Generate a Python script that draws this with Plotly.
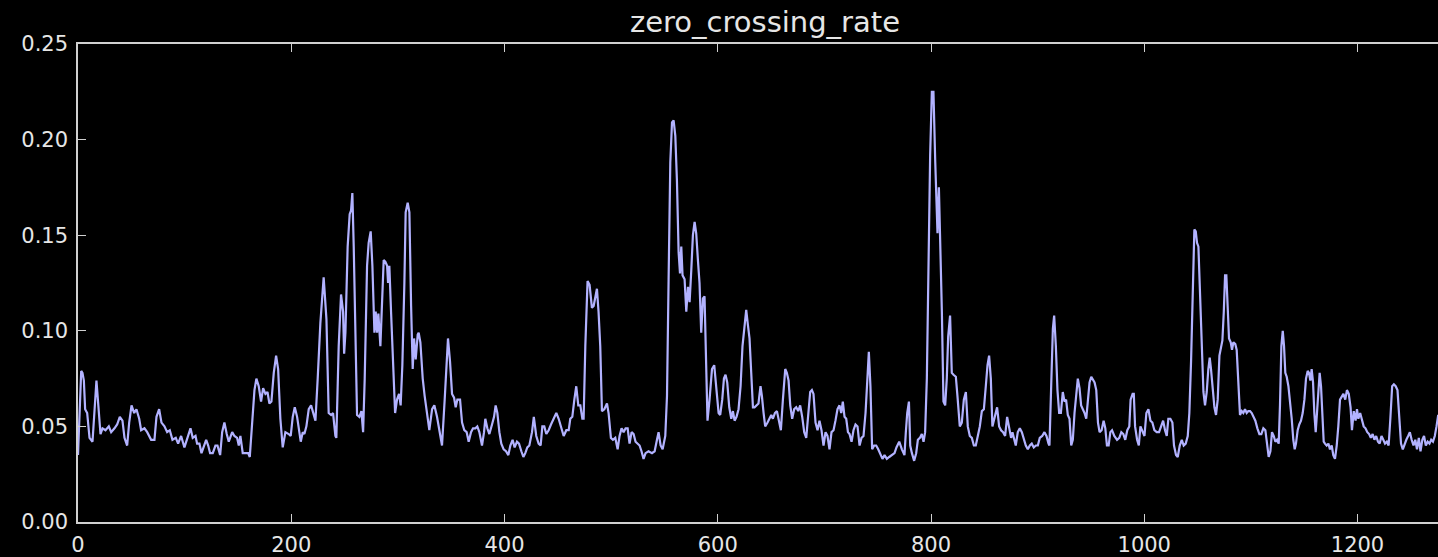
import plotly.graph_objects as go

# zero crossing rate per analysis frame (frame index, rate)
frame = [
    0, 3, 4.2, 5.5, 6.7, 8.6, 10.8, 13.6, 17.3, 21.1, 23, 25.8, 28.9, 31.1, 34.2, 36.7, 39.2, 41.7, 43.6, 46.1,
    48, 50.2, 52.7, 54.8, 57.4, 59.2, 62.3, 64.9, 68.6, 71.7, 73.6, 76.1, 78.3, 81.1, 83.6, 86.1, 88.6, 91.7, 93.9, 96.7,
    99.8, 102.4, 105.5, 107.6, 110.2, 111.7, 113.9, 115.8, 117.9, 120.2, 122.1, 123.9, 126.4, 128.9, 130.8, 133.3, 135.2, 137.3, 139.5, 141.4,
    144.6, 146.7, 149.2, 150.8, 152.3, 154.5, 157, 159.6, 161.1, 163.3, 165.5, 167.3, 169.5, 171.7, 173.6, 175.8, 177.7, 179.5, 181.4, 183.6,
    185.8, 187.7, 189.8, 192, 194.5, 197.6, 199.5, 201.4, 203.3, 205.5, 207, 208.9, 210.8, 212.3, 214.2, 216.4, 218.6, 220.5, 222.7, 224.8,
    227.3, 230.4, 233, 235.1, 237.4, 239.2, 241.4, 242.3, 244.5, 246.7, 248.6, 249.6, 250.8, 252.9, 254.8, 256.1, 257.3, 258.6, 260.2, 261.7,
    263.9, 265.8, 267.4, 268.9, 271.1, 272.6, 274.5, 276.1, 278, 279.2, 280.5, 281.7, 283.6, 285.2, 286.7, 288.3, 289.9, 290.8, 292, 293.6,
    295.5, 297.4, 299.2, 301.1, 302.6, 304.2, 306.1, 307.3, 309.2, 310.8, 312.4, 313.9, 315.2, 316.7, 318.6, 319.5, 321.1, 323.3, 325.1, 327.4,
    329.5, 332.1, 334.2, 336.7, 338.9, 341.4, 343.9, 347, 348.9, 350.8, 352.7, 354.2, 355.8, 358.3, 360.2, 362.3, 364.5, 366.4, 368.6, 370.5,
    372.7, 374.5, 376.4, 378.9, 380.8, 382, 383.9, 385.8, 388.3, 390.2, 391.7, 393.3, 395.2, 397, 399.2, 401.4, 403.6, 405.5, 407.6, 409.5,
    411.7, 413.6, 415.8, 417.7, 419.5, 421.4, 423.3, 425.8, 427.5, 429.8, 432, 433.9, 435.5, 437.3, 439.2, 441.4, 443.6, 446.1, 448.6, 450.8,
    453, 455.5, 458, 460.2, 461.7, 463.6, 465.5, 467.3, 469.2, 471.1, 473, 474.2, 475.8, 477.9, 479.8, 482, 483.6, 485.2, 486.7, 488.2,
    489.8, 491.4, 493.6, 496.1, 497.6, 499.8, 501.7, 503.9, 506.1, 507.9, 509.8, 511.7, 513.6, 515.5, 517.3, 519.2, 521.1, 522.9, 524.8, 526.7,
    528.5, 530.4, 532.3, 535.1, 538.3, 540.8, 543, 544.5, 546.4, 548.3, 550.8, 552.4, 553.9, 555.5, 557.1, 558.6, 560.2, 561.7, 563.3, 564.6,
    565.8, 567, 568.9, 570.5, 572.1, 573.6, 575.2, 576.7, 578.3, 579.8, 581.4, 582.9, 584.5, 586.1, 587.6, 588.9, 590.4, 592.3, 594.6, 596.7,
    598.9, 600.8, 602.3, 604.2, 605.8, 607.3, 608.9, 610.8, 612.7, 614.2, 615.8, 617.6, 619.5, 621.4, 623.2, 625.1, 626.7, 628.3, 629.8, 631.4,
    633, 634.5, 636.4, 638.2, 640.1, 641.4, 643, 644.5, 646.7, 648.6, 650.2, 651.7, 653.6, 655.5, 657.4, 659.2, 661.1, 663.3, 664.8, 666.4,
    668, 669.8, 671.7, 673.6, 675.5, 677.3, 679.2, 681.1, 683, 684.8, 686.7, 688.3, 689.8, 691.7, 693.6, 695.4, 697.3, 699.2, 701.1, 702.9,
    704.8, 706.7, 708.6, 710.4, 712.3, 714.2, 715.8, 717.3, 718.9, 720.5, 722.1, 723.6, 725.5, 727.3, 729.2, 731.1, 733, 734.8, 736.7, 738.6,
    740.2, 741.7, 743.2, 744.8, 746.7, 748.6, 750.5, 752.3, 754.5, 756.4, 758.6, 760.8, 763.3, 765.8, 767.6, 770.2, 772.7, 775.1, 776.4, 777.7,
    779.3, 780.5, 782.1, 784.2, 786.1, 787.7, 789.6, 791.4, 793, 794.5, 796.1, 797.7, 799.2, 800.8, 802.3, 804, 804.9, 806.1, 807.4, 808.6,
    810.2, 811.7, 813.3, 814.8, 816.1, 817.9, 819.5, 821.1, 823.3, 824.8, 827, 828.9, 830.8, 832.7, 834.5, 836.4, 838.3, 840.2, 842, 843.9,
    845.8, 847.7, 849.6, 851.4, 853, 854.5, 856.1, 857.6, 860.1, 862, 863.9, 865.7, 867.6, 869.5, 871.4, 873.2, 875.1, 876.4, 878.3, 879.5,
    881.4, 883.3, 885.2, 887, 888.9, 890.8, 892.7, 894.5, 896.4, 898.3, 900.2, 902, 904.3, 906.4, 908.3, 910.2, 911.1, 912.7, 914.3, 915.5,
    917.1, 918.6, 920.2, 921.8, 923.6, 925.2, 926.7, 928.3, 929.9, 931.5, 933, 934.6, 936.2, 937.7, 939.3, 940.8, 942.4, 944, 945.6, 947.1,
    948.7, 950.3, 951.9, 953.4, 955, 956.6, 958.1, 960, 961.9, 963.5, 965, 966.6, 968.2, 969.8, 971.9, 974.5, 976.6, 978.5, 980.4, 982.2,
    984.1, 986, 987.2, 989.1, 990.2, 991.4, 993.3, 994.9, 996.4, 998.3, 1000.2, 1002, 1003.9, 1005.8, 1007.6, 1009.5, 1011.7, 1013.9, 1015.8, 1017.7,
    1019.5, 1021.1, 1022.6, 1024.5, 1026.4, 1027.9, 1029.8, 1031.4, 1033.3, 1035.2, 1037, 1038.9, 1040.8, 1042.3, 1043.9, 1045.5, 1047, 1048.3, 1049.5, 1050.8,
    1052.3, 1053.9, 1055.5, 1057, 1058.6, 1060.1, 1061.4, 1062.6, 1064.2, 1065.8, 1067.3, 1068.9, 1070.5, 1072.1, 1073.3, 1074.6, 1075.8, 1077, 1078.3, 1079.5,
    1081.1, 1082.3, 1083.6, 1085.4, 1086.7, 1088.3, 1089.8, 1091.4, 1092.9, 1094.5, 1096.1, 1097.6, 1099.2, 1100.8, 1102.3, 1104.2, 1106.1, 1108, 1109.8, 1111.7,
    1113.6, 1115.2, 1116.7, 1118.3, 1119.8, 1121.4, 1123, 1124.5, 1126.1, 1127.3, 1128.6, 1129.9, 1131.1, 1132.3, 1133.6, 1135.2, 1136.7, 1138.3, 1139.8, 1141.1,
    1142.3, 1143.9, 1145.4, 1147, 1148.6, 1150.2, 1151.7, 1153.3, 1154.5, 1155.8, 1157, 1158.3, 1159.5, 1160.8, 1162, 1163.3, 1164.5, 1165.8, 1167, 1168.3,
    1169.5, 1171.1, 1172.7, 1174.2, 1175.8, 1177.3, 1178.9, 1180.5, 1182, 1183.6, 1186.8, 1188.5, 1190.1, 1191.8, 1193.5, 1194.8, 1196.5, 1198.2, 1199.5, 1200.8,
    1202.5, 1204.2, 1205.8, 1207.5, 1209.2, 1210.9, 1212.5, 1214.2, 1215.9, 1217.5, 1219.2, 1220.8, 1222.5, 1224.2, 1225.8, 1227.5, 1229.2, 1230.8, 1232.5, 1234.1,
    1235.8, 1237.5, 1239.2, 1240.8, 1242.5, 1244.1, 1245.8, 1247.5, 1249.1, 1250.8, 1252.5, 1254.2, 1255.8, 1257.5, 1259.1, 1260.8, 1262.4, 1264.1, 1265.8, 1267.5,
    1269.1, 1270.8, 1272.5, 1274.1, 1275.7, 1277,
]

zcr = [
    0.035, 0.079, 0.078, 0.074, 0.059, 0.057, 0.044, 0.042, 0.074, 0.046, 0.049, 0.048, 0.050, 0.047, 0.049, 0.051, 0.055, 0.053, 0.044, 0.040,
    0.052, 0.061, 0.057, 0.059, 0.054, 0.048, 0.049, 0.047, 0.043, 0.043, 0.055, 0.059, 0.052, 0.050, 0.047, 0.048, 0.043, 0.044, 0.041, 0.045,
    0.039, 0.044, 0.049, 0.044, 0.045, 0.041, 0.041, 0.036, 0.040, 0.043, 0.040, 0.036, 0.036, 0.040, 0.040, 0.035, 0.047, 0.052, 0.046, 0.042,
    0.047, 0.045, 0.044, 0.040, 0.045, 0.036, 0.036, 0.036, 0.034, 0.050, 0.069, 0.075, 0.071, 0.063, 0.070, 0.067, 0.068, 0.062, 0.063, 0.078,
    0.087, 0.080, 0.054, 0.039, 0.047, 0.046, 0.045, 0.055, 0.060, 0.055, 0.048, 0.042, 0.047, 0.046, 0.050, 0.059, 0.061, 0.057, 0.053, 0.075,
    0.104, 0.128, 0.106, 0.057, 0.056, 0.057, 0.045, 0.044, 0.092, 0.119, 0.110, 0.088, 0.099, 0.144, 0.161, 0.163, 0.172, 0.144, 0.092, 0.056,
    0.055, 0.058, 0.047, 0.075, 0.134, 0.146, 0.152, 0.134, 0.099, 0.110, 0.099, 0.109, 0.092, 0.118, 0.137, 0.136, 0.134, 0.125, 0.134, 0.110,
    0.080, 0.057, 0.064, 0.067, 0.061, 0.082, 0.125, 0.162, 0.167, 0.162, 0.113, 0.080, 0.096, 0.085, 0.098, 0.099, 0.094, 0.075, 0.066, 0.057,
    0.048, 0.059, 0.061, 0.055, 0.047, 0.040, 0.064, 0.096, 0.084, 0.067, 0.065, 0.060, 0.064, 0.064, 0.052, 0.048, 0.047, 0.042, 0.047, 0.049,
    0.049, 0.050, 0.047, 0.040, 0.047, 0.054, 0.049, 0.046, 0.051, 0.055, 0.061, 0.057, 0.047, 0.041, 0.038, 0.037, 0.035, 0.040, 0.043, 0.039,
    0.042, 0.041, 0.037, 0.034, 0.036, 0.039, 0.040, 0.047, 0.055, 0.045, 0.041, 0.040, 0.050, 0.050, 0.046, 0.048, 0.051, 0.054, 0.057, 0.054,
    0.050, 0.045, 0.048, 0.048, 0.054, 0.055, 0.064, 0.071, 0.061, 0.061, 0.054, 0.054, 0.092, 0.126, 0.124, 0.112, 0.113, 0.119, 0.122, 0.110,
    0.092, 0.058, 0.059, 0.062, 0.057, 0.044, 0.043, 0.044, 0.038, 0.045, 0.049, 0.047, 0.049, 0.049, 0.041, 0.047, 0.046, 0.042, 0.041, 0.040,
    0.037, 0.033, 0.036, 0.037, 0.036, 0.037, 0.043, 0.047, 0.040, 0.038, 0.045, 0.066, 0.127, 0.188, 0.209, 0.210, 0.202, 0.179, 0.141, 0.130,
    0.144, 0.129, 0.127, 0.110, 0.123, 0.115, 0.132, 0.150, 0.157, 0.151, 0.137, 0.125, 0.099, 0.117, 0.118, 0.092, 0.053, 0.064, 0.080, 0.082,
    0.066, 0.057, 0.056, 0.064, 0.075, 0.077, 0.073, 0.060, 0.054, 0.058, 0.053, 0.055, 0.059, 0.071, 0.092, 0.103, 0.111, 0.103, 0.096, 0.078,
    0.060, 0.060, 0.061, 0.062, 0.071, 0.066, 0.057, 0.050, 0.052, 0.054, 0.056, 0.054, 0.057, 0.058, 0.052, 0.048, 0.064, 0.080, 0.078, 0.074,
    0.061, 0.054, 0.059, 0.060, 0.058, 0.061, 0.055, 0.047, 0.044, 0.055, 0.068, 0.069, 0.067, 0.052, 0.048, 0.053, 0.048, 0.040, 0.047, 0.045,
    0.038, 0.047, 0.048, 0.053, 0.059, 0.061, 0.057, 0.063, 0.055, 0.054, 0.047, 0.046, 0.042, 0.048, 0.051, 0.050, 0.040, 0.044, 0.045, 0.057,
    0.075, 0.089, 0.071, 0.038, 0.040, 0.040, 0.038, 0.036, 0.033, 0.035, 0.033, 0.034, 0.035, 0.036, 0.039, 0.042, 0.038, 0.035, 0.047, 0.057,
    0.063, 0.040, 0.036, 0.032, 0.036, 0.043, 0.044, 0.046, 0.042, 0.047, 0.075, 0.136, 0.192, 0.225, 0.225, 0.188, 0.174, 0.151, 0.175, 0.150,
    0.110, 0.063, 0.061, 0.075, 0.097, 0.108, 0.078, 0.077, 0.076, 0.066, 0.050, 0.052, 0.064, 0.068, 0.050, 0.045, 0.044, 0.040, 0.040, 0.045,
    0.050, 0.058, 0.059, 0.071, 0.082, 0.087, 0.075, 0.050, 0.055, 0.060, 0.050, 0.048, 0.047, 0.045, 0.055, 0.049, 0.044, 0.047, 0.043, 0.040,
    0.047, 0.049, 0.047, 0.043, 0.040, 0.038, 0.040, 0.041, 0.039, 0.040, 0.040, 0.044, 0.045, 0.047, 0.045, 0.041, 0.040, 0.071, 0.101, 0.108,
    0.092, 0.069, 0.057, 0.057, 0.068, 0.063, 0.064, 0.056, 0.054, 0.040, 0.043, 0.057, 0.068, 0.075, 0.070, 0.061, 0.059, 0.057, 0.054, 0.064,
    0.073, 0.076, 0.074, 0.073, 0.069, 0.052, 0.047, 0.048, 0.053, 0.049, 0.040, 0.040, 0.047, 0.048, 0.045, 0.043, 0.044, 0.047, 0.046, 0.043,
    0.048, 0.050, 0.064, 0.067, 0.067, 0.050, 0.043, 0.040, 0.050, 0.047, 0.045, 0.057, 0.059, 0.053, 0.052, 0.048, 0.047, 0.047, 0.050, 0.053,
    0.048, 0.045, 0.054, 0.054, 0.052, 0.040, 0.035, 0.034, 0.040, 0.043, 0.040, 0.041, 0.045, 0.057, 0.084, 0.125, 0.153, 0.152, 0.146, 0.144,
    0.118, 0.092, 0.068, 0.061, 0.068, 0.080, 0.086, 0.080, 0.068, 0.060, 0.056, 0.064, 0.087, 0.092, 0.095, 0.110, 0.129, 0.129, 0.113, 0.096,
    0.094, 0.090, 0.094, 0.093, 0.090, 0.075, 0.056, 0.058, 0.057, 0.059, 0.057, 0.058, 0.058, 0.057, 0.055, 0.053, 0.049, 0.046, 0.046, 0.049,
    0.048, 0.040, 0.034, 0.037, 0.047, 0.045, 0.042, 0.043, 0.041, 0.061, 0.092, 0.100, 0.092, 0.078, 0.076, 0.071, 0.064, 0.054, 0.043, 0.038,
    0.041, 0.048, 0.051, 0.053, 0.057, 0.064, 0.075, 0.079, 0.078, 0.074, 0.080, 0.073, 0.057, 0.047, 0.057, 0.069, 0.078, 0.071, 0.055, 0.042,
    0.041, 0.040, 0.041, 0.038, 0.040, 0.035, 0.033, 0.040, 0.050, 0.064, 0.067, 0.064, 0.069, 0.067, 0.060, 0.048, 0.058, 0.053, 0.059, 0.054,
    0.057, 0.053, 0.050, 0.049, 0.047, 0.046, 0.044, 0.046, 0.043, 0.045, 0.042, 0.041, 0.045, 0.043, 0.041, 0.042, 0.040, 0.054, 0.071, 0.072,
    0.071, 0.069, 0.054, 0.041, 0.038, 0.041, 0.043, 0.045, 0.047, 0.043, 0.040, 0.043, 0.038, 0.044, 0.037, 0.043, 0.045, 0.040, 0.042, 0.041,
    0.043, 0.042, 0.045, 0.050, 0.056, 0.054,
]

x_ticks = [0, 200, 400, 600, 800, 1000, 1200]
y_ticks = [0.00, 0.05, 0.10, 0.15, 0.20, 0.25]

FG = "#e6e6e6"
SPINE = "#d0d0d0"
FONT = "DejaVu Sans"

fig = go.Figure(
    go.Scatter(
        x=frame,
        y=zcr,
        mode="lines",
        line=dict(color="#b2b2ff", width=2.2),
        hoverinfo="skip",
    )
)

fig.update_layout(
    width=1438,
    height=557,
    margin=dict(l=78, r=0, t=44, b=35),
    paper_bgcolor="#000000",
    plot_bgcolor="#000000",
    showlegend=False,
    font=dict(family=FONT, color=FG, size=21),
    title=dict(
        text="zero_crossing_rate",
        font=dict(family=FONT, size=29, color=FG),
        xref="container",
        yref="container",
        x=765 / 1438,
        y=1 - 22 / 557,
        xanchor="center",
        yanchor="middle",
    ),
)

fig.update_xaxes(
    range=[0, 1275.5],
    tickvals=x_ticks,
    ticktext=[str(v) for v in x_ticks],
    ticks="inside",
    ticklen=8,
    tickwidth=1,
    tickcolor=SPINE,
    showline=True,
    linecolor=SPINE,
    linewidth=1.5,
    mirror="ticks",
    showgrid=False,
    zeroline=False,
    ticklabelstandoff=3,
    tickfont=dict(family=FONT, size=21, color=FG),
)

fig.update_yaxes(
    range=[0, 0.25],
    tickvals=y_ticks,
    ticktext=[f"{v:.2f}" for v in y_ticks],
    ticks="inside",
    ticklen=8,
    tickwidth=1,
    tickcolor=SPINE,
    showline=True,
    linecolor=SPINE,
    linewidth=1.5,
    mirror=False,
    showgrid=False,
    zeroline=False,
    ticklabelstandoff=4,
    tickfont=dict(family=FONT, size=21, color=FG),
)

fig.write_html("out.html")
